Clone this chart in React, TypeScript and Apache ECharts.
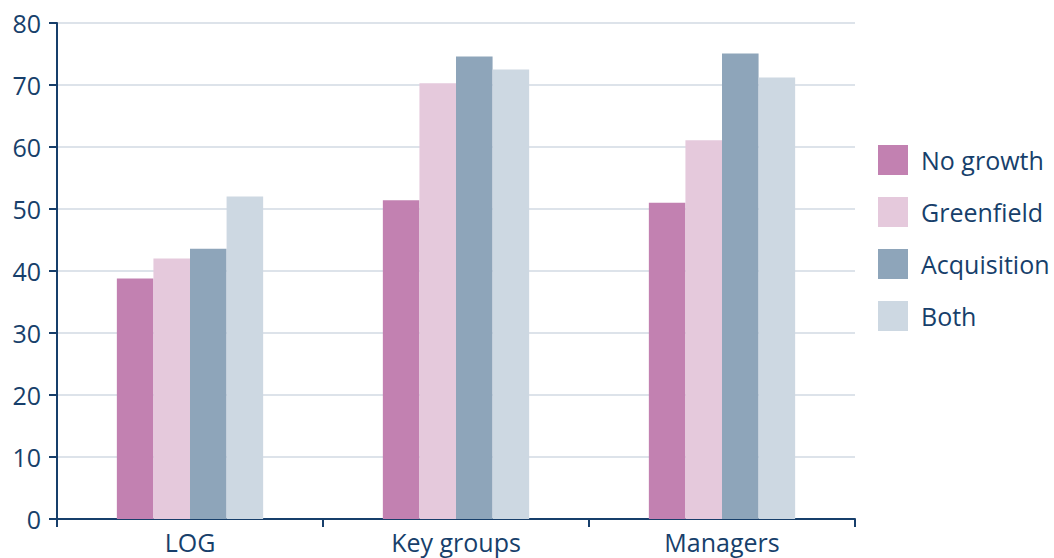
import React, { useEffect, useRef } from "react";
import * as echarts from "echarts";

const categories = ["LOG", "Key groups", "Managers"];
const seriesNames = ["No growth", "Greenfield", "Acquisition", "Both"];
const noGrowth = [38.8, 51.4, 51.0];
const greenfield = [42.0, 70.3, 61.1];
const acquisition = [43.6, 74.6, 75.1];
const both = [52.0, 72.5, 71.2];
const colors = ["#C281B1", "#E5C9DC", "#8EA5BA", "#CDD8E2"];
const yTicks = [0, 10, 20, 30, 40, 50, 60, 70, 80];

const TEXT = "#173F6B";
const FONT = "Open Sans";

export default function App() {
  const ref = useRef<HTMLDivElement>(null);
  useEffect(() => {
    if (!ref.current) return;
    const chart = echarts.init(ref.current, undefined, { renderer: "svg" });
    const values = [noGrowth, greenfield, acquisition, both];
    chart.setOption({
      animation: false,
      grid: { left: 57, right: 199, top: 23, bottom: 39, containLabel: false },
      legend: {
        orient: "vertical",
        left: 873,
        top: 140,
        itemWidth: 30,
        itemHeight: 30,
        itemGap: 22,
        icon: "rect",
        data: seriesNames,
        textStyle: { color: TEXT, fontSize: 25, fontFamily: FONT, padding: [0, 0, 0, 8] },
      },
      xAxis: {
        type: "category",
        data: categories,
        axisLine: { lineStyle: { color: TEXT, width: 2 } },
        axisTick: { show: true, length: 8, lineStyle: { color: TEXT, width: 2 } },
        axisLabel: { color: TEXT, fontSize: 25, fontFamily: FONT, margin: 10 },
      },
      yAxis: {
        type: "value",
        min: yTicks[0],
        max: yTicks[yTicks.length - 1],
        interval: 10,
        axisLine: { show: true, lineStyle: { color: TEXT, width: 2 } },
        axisTick: { show: true, length: 8, lineStyle: { color: TEXT, width: 2 } },
        axisLabel: { color: TEXT, fontSize: 25, fontFamily: FONT, margin: 16 },
        splitLine: { lineStyle: { color: "#DDE3EA", width: 2 } },
      },
      series: seriesNames.map((name, i) => ({
        name,
        type: "bar",
        data: values[i],
        barGap: "0%",
        barCategoryGap: "45%",
        itemStyle: { color: colors[i] },
      })),
    });
    return () => chart.dispose();
  }, []);
  return <div ref={ref} style={{ width: 1054, height: 558, position: "absolute", left: 0, top: 0 }} />;
}
